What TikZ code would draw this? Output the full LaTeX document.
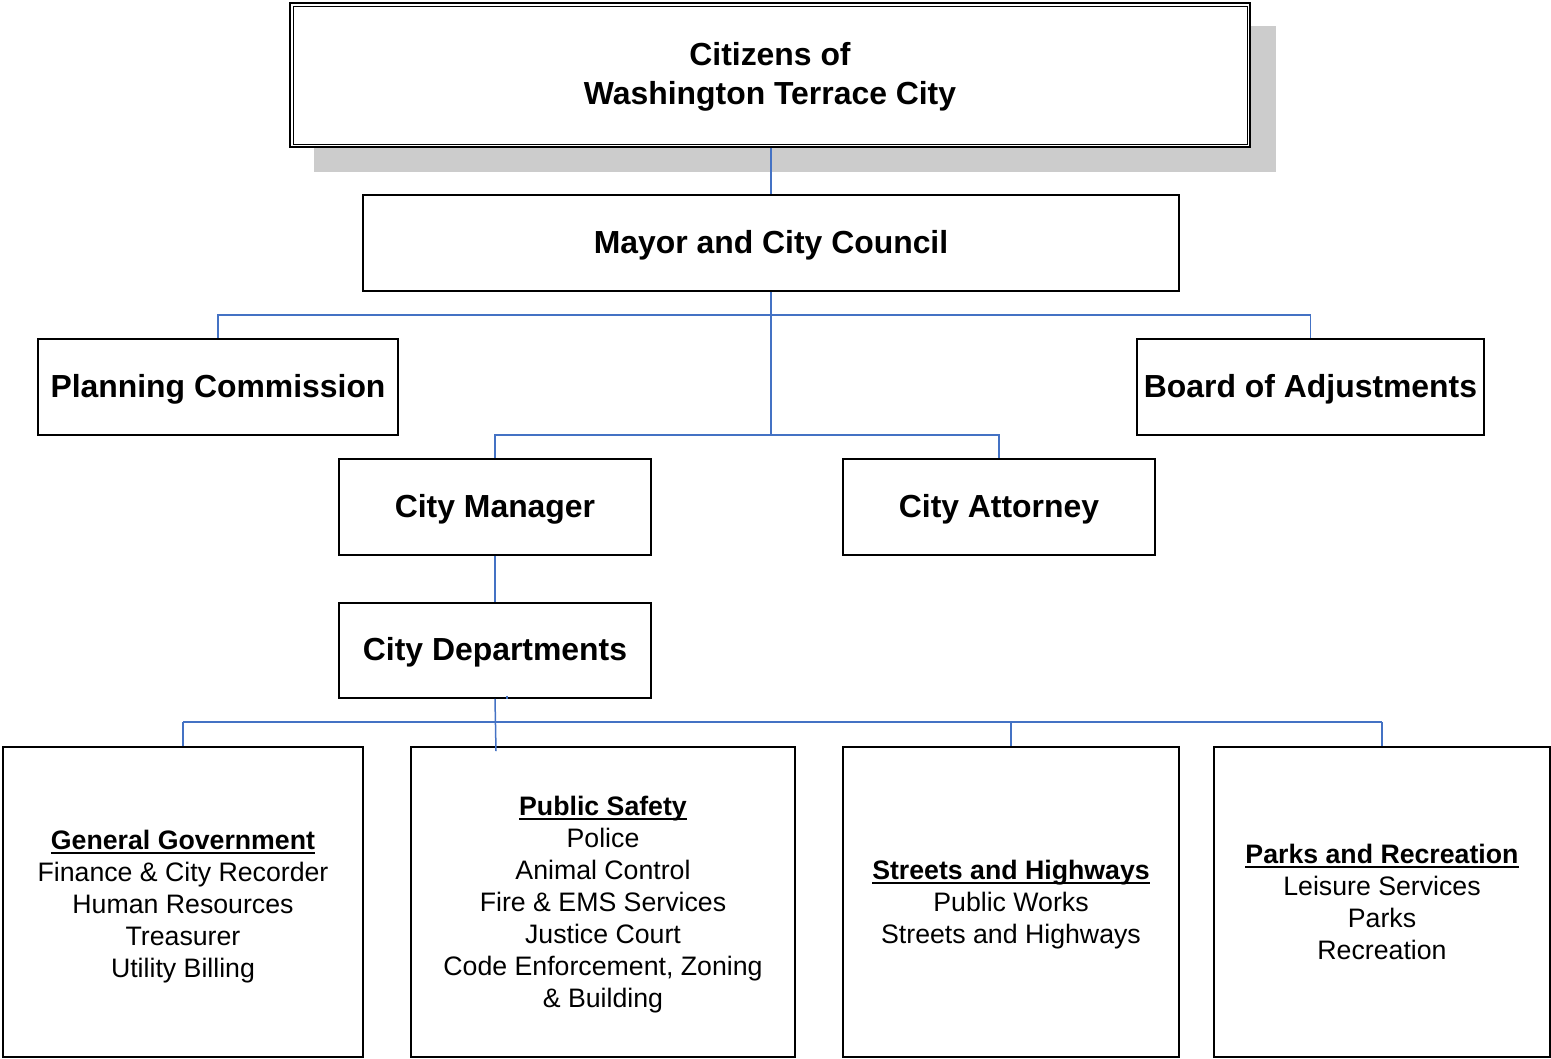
\documentclass[tikz,border=0pt]{standalone}
\usepackage{fontspec}
\setmainfont{Liberation Sans}
\usetikzlibrary{calc}
\definecolor{conn}{HTML}{4472C4}
\definecolor{shadowgray}{HTML}{CCCCCC}
\newcommand{\ulx}[1]{\setbox0\hbox{#1}\rlap{\rule[-4.5pt]{\wd0}{2pt}}\box0}
\newcommand{\tstrut}{\rule{0pt}{27.5pt}}
\newcommand{\dstrut}[1]{\rule{0pt}{#1pt}}
\tikzset{
  orgbox/.style={draw=black, line width=1.8pt, fill=white, inner sep=2pt, align=center,
    font=\fontsize{31.9}{39}\selectfont\bfseries, minimum height=96pt},
  deptbox/.style={draw=black, line width=1.8pt, fill=white, inner sep=2pt, align=center,
    font=\fontsize{26.7}{32}\selectfont, minimum height=310pt},
  link/.style={draw=conn, line width=1.5pt},
}
\begin{document}
\begin{tikzpicture}[x=1pt,y=1pt]
\useasboundingbox (0,0) rectangle (1551,-1059);
% shadow of top box
\fill[shadowgray] (314,-26) rectangle (1276,-172);
% top box
\node[orgbox, minimum width=960pt, minimum height=144pt, line width=2.5pt] (cit) at (770,-75)
  {\tstrut Citizens of\\Washington Terrace City};
\draw[line width=1.2pt] ([shift={(5,-4.5)}]cit.north west) rectangle ([shift={(-4,4)}]cit.south east);
% second level
\node[orgbox, minimum width=816pt] (mayor) at (771,-243) {\tstrut Mayor and City Council};
\node[orgbox, minimum width=360pt] (plan) at (218,-387) {\tstrut Planning Commission};
\node[orgbox, minimum width=347pt] (board) at (1310.5,-387) {\tstrut Board of Adjustments};
\node[orgbox, minimum width=312pt] (mgr) at (495,-507) {\tstrut City Manager};
\node[orgbox, minimum width=312pt] (att) at (999,-507) {\tstrut City Attorney};
\node[orgbox, minimum width=312pt, minimum height=95pt] (dept) at (495,-650.5) {\tstrut City Departments};
% bottom boxes
\node[deptbox, minimum width=360pt] (gg) at (183,-902)
  {\dstrut{28}\textbf{\ulx{General Government}}\\Finance \& City Recorder\\Human Resources\\Treasurer\\Utility Billing};
\node[deptbox, minimum width=384pt] (ps) at (603,-902)
  {\dstrut{24}\textbf{\ulx{Public Safety}}\\Police\\Animal Control\\Fire \& EMS Services\\Justice Court\\Code Enforcement, Zoning\\\& Building};
\node[deptbox, minimum width=336pt] (sh) at (1011,-902)
  {\dstrut{24}\textbf{\ulx{Streets and Highways}}\\Public Works\\Streets and Highways};
\node[deptbox, minimum width=336pt] (pr) at (1382,-902)
  {\dstrut{20}\textbf{\ulx{Parks and Recreation}}\\Leisure Services\\Parks\\Recreation};
% connectors
\coordinate (j1) at (771,-315);
\coordinate (j2) at (771,-435);
\coordinate (j3) at (495,-722);
\path[link] (mayor.north |- cit.south) -- (mayor.north);
\path[link] (mayor.south) -- (j2);
\path[link] (j1) -| (plan.north);
\path[link] (j1) -| (board.north);
\path[link] (j2) -| (mgr.north);
\path[link] (j2) -| (att.north);
\path[link] (mgr.south) -- (dept.north);
\path[link] (dept.south) -- ($(dept.south |- ps.north)+(1,-5)$);
\path[link] (gg.north |- j3) -- (pr.north |- j3);
\path[link] (j3 -| gg.north) -- (gg.north);
\path[link] (j3 -| sh.north) -- (sh.north);
\path[link] (j3 -| pr.north) -- (pr.north);
\path[link] ($(dept.south)+(12,3)$) -- ($(dept.south)+(12,0)$);
\end{tikzpicture}
\end{document}
